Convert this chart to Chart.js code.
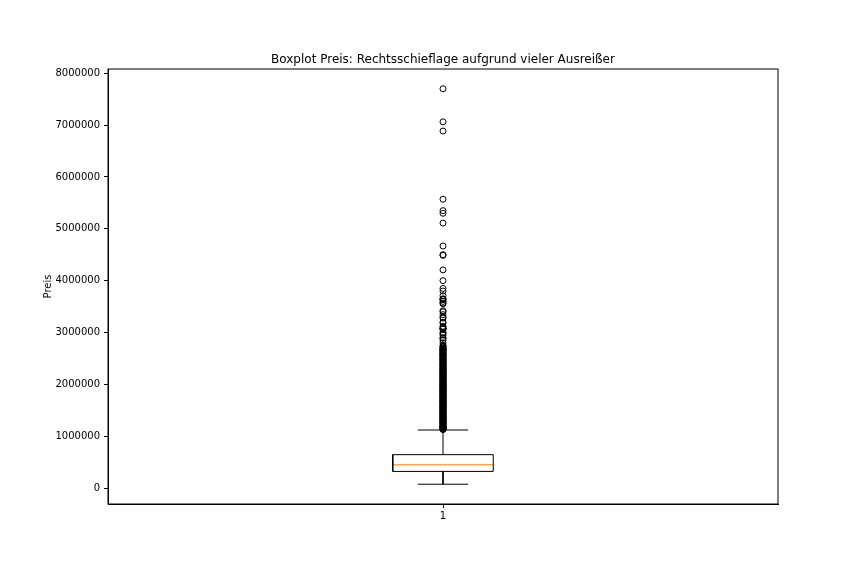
<!DOCTYPE html>
<html>
<head>
<meta charset="utf-8">
<script src="https://cdn.jsdelivr.net/npm/chart.js@4.4.1/dist/chart.umd.min.js"></script>
<style>
  body { margin: 0; background: #fff; }
  #wrap { width: 864px; height: 576px; }
</style>
</head>
<body>
<div id="wrap"><canvas id="boxplot"></canvas></div>
<script>
// box statistics for "Preis"
const boxPosition = [1];
const boxStats = {
  whiskerLow: [75000],
  q1: [321950],
  median: [450000],
  q3: [645000],
  whiskerHigh: [1120000],
};
const yTickLabels = ["0", "1000000", "2000000", "3000000", "4000000", "5000000", "6000000", "7000000", "8000000"];
const titleText = "Boxplot Preis: Rechtsschieflage aufgrund vieler Ausreißer";

// outliers above the upper whisker
const outliers = [
  7700000, 7062500, 6885000, 5570000, 5350000, 5300000, 5110800, 4668000,
  4500000, 4489000, 4208000, 4000000, 3850000, 3800000, 3710000, 3650000,
  3640900, 3635000, 3600000, 3567000, 3555000, 3418800, 3400000, 3345000,
  3300000, 3278000, 3200000, 3185000, 3120000, 3100000, 3075000, 3070000,
  3065000, 3000000, 2983000, 2950000, 2900000, 2888000, 2850000, 2800000,
  2750000, 2735000, 2720000, 2700000, 2690000, 2680000, 2670000, 2660000,
  2650000, 2640000, 2625000, 2615000, 2600000, 2590000, 2580000, 2570000,
  2560000, 2550000, 2540000, 2525000, 2515000, 2500000, 2490000, 2480000,
  2470000, 2465000, 2450000, 2440000, 2425000, 2415000, 2400000, 2390000,
  2385000, 2375000, 2365000, 2350000, 2340000, 2325000, 2315000, 2300000,
  2290000, 2285000, 2275000, 2270000, 2250000, 2240000, 2230000, 2220000,
  2210000, 2200000, 2190000, 2180000, 2170000, 2160000, 2150000, 2140000,
  2130000, 2120000, 2110000, 2100000, 2090000, 2080000, 2070000, 2065000,
  2050000, 2040000, 2030000, 2020000, 2010000, 2000000, 1995000, 1985000,
  1975000, 1970000, 1960000, 1950000, 1940000, 1935000, 1920000, 1910000,
  1900000, 1890000, 1885000, 1875000, 1870000, 1860000, 1850000, 1840000,
  1835000, 1820000, 1810000, 1800000, 1790000, 1785000, 1775000, 1770000,
  1760000, 1750000, 1740000, 1735000, 1720000, 1710000, 1700000, 1690000,
  1685000, 1675000, 1670000, 1660000, 1650000, 1640000, 1635000, 1620000,
  1610000, 1600000, 1590000, 1585000, 1575000, 1570000, 1560000, 1550000,
  1540000, 1535000, 1520000, 1510000, 1500000, 1490000, 1485000, 1475000,
  1470000, 1460000, 1450000, 1440000, 1435000, 1420000, 1410000, 1400000,
  1390000, 1385000, 1375000, 1370000, 1360000, 1350000, 1340000, 1335000,
  1320000, 1310000, 1300000, 1290000, 1285000, 1275000, 1270000, 1260000,
  1250000, 1240000, 1235000, 1220000, 1210000, 1200000, 1190000, 1185000,
  1175000, 1170000, 1160000, 1150000, 1145000, 1140000, 1135000, 1130000,
];

const boxWidth = 0.15;
const capWidth = boxWidth / 2;

Chart.defaults.font.family = "'DejaVu Sans', sans-serif";
Chart.defaults.font.size = 10;
Chart.defaults.color = "#000";

const x0 = boxPosition[0];
const half = boxWidth / 2;
const capHalf = capWidth / 2;

const lineDs = (points, color) => ({
  type: "scatter",
  data: points,
  showLine: true,
  borderColor: color,
  borderWidth: 1,
  pointRadius: 0,
  fill: false,
});

const boxLine = lineDs([
  { x: x0 - half, y: boxStats.q1[0] },
  { x: x0 + half, y: boxStats.q1[0] },
  { x: x0 + half, y: boxStats.q3[0] },
  { x: x0 - half, y: boxStats.q3[0] },
  { x: x0 - half, y: boxStats.q1[0] },
], "#000");

const medianLine = lineDs([
  { x: x0 - half, y: boxStats.median[0] },
  { x: x0 + half, y: boxStats.median[0] },
], "#ff7f0e");

const lowWhisker = lineDs([
  { x: x0, y: boxStats.q1[0] },
  { x: x0, y: boxStats.whiskerLow[0] },
], "#000");
const lowCap = lineDs([
  { x: x0 - capHalf, y: boxStats.whiskerLow[0] },
  { x: x0 + capHalf, y: boxStats.whiskerLow[0] },
], "#000");
const highWhisker = lineDs([
  { x: x0, y: boxStats.q3[0] },
  { x: x0, y: boxStats.whiskerHigh[0] },
], "#000");
const highCap = lineDs([
  { x: x0 - capHalf, y: boxStats.whiskerHigh[0] },
  { x: x0 + capHalf, y: boxStats.whiskerHigh[0] },
], "#000");

const fliers = {
  type: "scatter",
  data: outliers.map((v) => ({ x: x0, y: v })),
  pointStyle: "circle",
  pointRadius: 3,
  borderWidth: 1,
  borderColor: "#000",
  backgroundColor: "rgba(0,0,0,0)",
};

// matplotlib-style autoscale with 5% margins
const dataMin = Math.min(boxStats.whiskerLow[0], ...outliers);
const dataMax = Math.max(boxStats.whiskerHigh[0], ...outliers);
const margin = (dataMax - dataMin) * 0.05;

// axes frame + title centred over the plot area
const frame = {
  id: "frame",
  afterDraw(chart) {
    const { ctx, chartArea: a } = chart;
    ctx.save();
    ctx.strokeStyle = "#000";
    ctx.lineWidth = 1;
    ctx.strokeRect(a.left, a.top, a.right - a.left, a.bottom - a.top);
    ctx.fillStyle = "#000";
    ctx.font = "12px 'DejaVu Sans', sans-serif";
    ctx.textAlign = "center";
    ctx.textBaseline = "alphabetic";
    ctx.fillText(titleText, (a.left + a.right) / 2, a.top - 6);
    ctx.restore();
  },
};

new Chart(document.getElementById("boxplot"), {
  type: "scatter",
  data: {
    datasets: [boxLine, lowWhisker, lowCap, highWhisker, highCap, fliers, medianLine],
  },
  options: {
    responsive: true,
    maintainAspectRatio: false,
    animation: false,
    events: [],
    layout: { padding: { left: 38, right: 86, top: 69, bottom: 42 } },
    plugins: {
      legend: { display: false },
      tooltip: { enabled: false },
      title: { display: false },
    },
    scales: {
      x: {
        type: "linear",
        min: 0.5,
        max: 1.5,
        afterBuildTicks: (scale) => {
          scale.ticks = boxPosition.map((p) => ({ value: p }));
        },
        afterFit: (scale) => {
          scale.height = 30;
        },
        ticks: { padding: 2, callback: (v) => String(v) },
        grid: { drawOnChartArea: false, drawTicks: true, tickLength: 4, color: "#000" },
        border: { display: true, color: "#000" },
      },
      y: {
        min: dataMin - margin,
        max: dataMax + margin,
        afterBuildTicks: (scale) => {
          scale.ticks = yTickLabels.map((t) => ({ value: Number(t) }));
        },
        afterFit: (scale) => {
          scale.width = 70;
        },
        ticks: { padding: 4, callback: (v) => String(v) },
        title: { display: true, text: "Preis", font: { size: 10 }, padding: { top: 4, bottom: 4 } },
        grid: { drawOnChartArea: false, drawTicks: true, tickLength: 4, color: "#000" },
        border: { display: true, color: "#000" },
      },
    },
  },
  plugins: [frame],
});
</script>
</body>
</html>
